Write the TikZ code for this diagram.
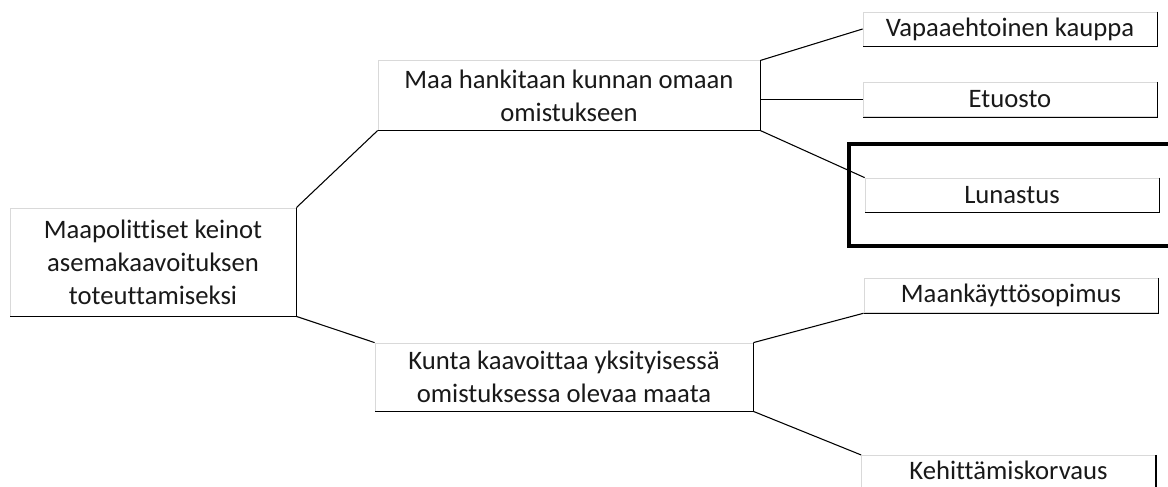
\documentclass[tikz,border=0pt]{standalone}
\usepackage{fontspec}
\setmainfont{Carlito}[Ligatures=NoCommon]
\tikzset{
	box/.style={draw=gray!30, line width=0.6pt, fill=white, align=center, inner sep=0pt,
		font=\fontsize{20}{24.8}\selectfont, text=black!90},
	link/.style={black, line width=0.8pt}
}
\begin{document}
\begin{tikzpicture}[x=0.75pt, y=-0.75pt]
			\clip (0,0) rectangle (1168,486);
			\fill[white] (0,0) rectangle (1168,486);
			% main boxes
			\node[box, minimum width=214.5pt, minimum height=81pt] (keinot) at (153,262){Maapolittiset keinot\\asemakaavoituksen\\toteuttamiseksi};
			\node[box, minimum width=286.5pt, minimum height=52pt] (hankinta) at (569,95.5){Maa hankitaan kunnan omaan\\omistukseen};
			\node[box, minimum width=283.5pt, minimum height=51pt] (kaavoitus) at (564,377){Kunta kaavoittaa yksityisessä\\omistuksessa olevaa maata};
			% small boxes
			\node[box, minimum width=220.5pt, minimum height=25.5pt] (kauppa) at (1010,29){Vapaaehtoinen kauppa};
			\node[box, minimum width=220.5pt, minimum height=26pt] (etuosto) at (1010,99.5){Etuosto};
			\node[box, minimum width=220.5pt, minimum height=25.5pt] (lunastus) at (1012,195){Lunastus};
			\node[box, minimum width=220.5pt, minimum height=26pt] (sopimus) at (1011,295.5){Maankäyttösopimus};
			\node[box, draw=none, minimum width=220.5pt, minimum height=22pt] (korvaus) at (1008.5,470){Kehittämiskorvaus};
			\foreach \n in {keinot,hankinta,kaavoitus,kauppa,etuosto,lunastus,sopimus}
				\draw[black, line width=0.9pt] (\n.north east) -- (\n.south east) -- (\n.south west);
			% last box runs past the bottom edge
			\draw[gray!30, line width=0.6pt] ([yshift=-8pt]korvaus.south west) -- (korvaus.north west) -- (korvaus.north east);
			\draw[black, line width=0.9pt] (korvaus.north east) -- ([yshift=-8pt]korvaus.south east);
			% connectors
			\draw[link] (keinot.north east) -- (hankinta.south west);
			\draw[link] (keinot.south east) -- (kaavoitus.north west);
			\draw[link] (hankinta.north east) -- (kauppa.west);
			\draw[link] (hankinta.east |- etuosto.west) -- (etuosto.west);
			\draw[link] (hankinta.south east) -- (lunastus.north west);
			\draw[link] (kaavoitus.north east) -- (sopimus.south west);
			\draw[link] (kaavoitus.south east) -- (korvaus.north west);
			% highlight
			\draw[black, line width=3pt] (849,144) rectangle (1180,246);
		\end{tikzpicture}
\end{document}
